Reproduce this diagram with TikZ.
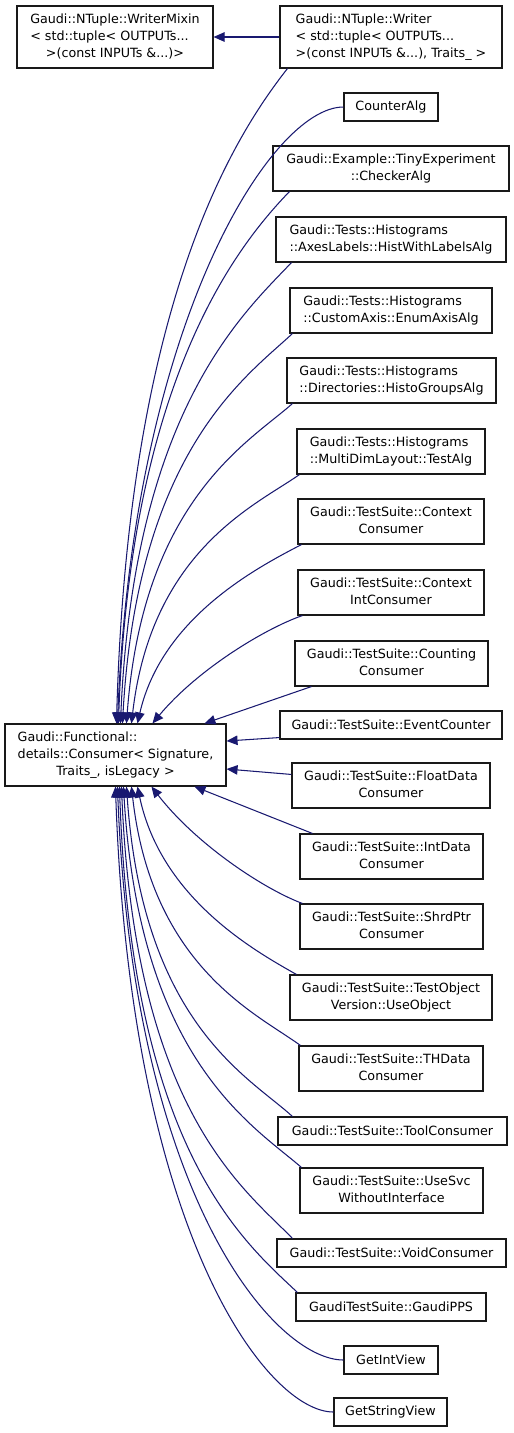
\documentclass[tikz,border=0pt]{standalone}
\usepackage{fontspec}
\setmainfont{DejaVu Sans}
\usetikzlibrary{arrows.meta,calc}
\definecolor{edgecol}{HTML}{191970}
\newcommand\lab[2]{\begin{tabular}{@{}l@{}}#1\\\multicolumn{1}{@{}c@{}}{#2}\end{tabular}}
\newcommand\conn[6]{\draw[inh] let \p1=(#1),\p2=(#2),\n1={\x1-\x2},\n2={\y1-\y2} in
  (\p1) .. controls ({\x1-#3*\n1},{\y1-#4*(\n2)}) and ({\x2+#5*\n1},{\y2+#6*(\n2)}) .. (\p2);}
\tikzset{
  box/.style={draw=black!90, line width=1.1pt, fill=white, inner sep=0pt,
    font=\fontsize{12.7pt}{17pt}\selectfont, align=center},
  inh/.style={draw=edgecol, line width=1.05pt, -{Triangle[length=11pt,width=9.5pt]}, edgecol},
}
\begin{document}
\begin{tikzpicture}[x=1pt,y=-1pt]
\useasboundingbox (0,0) rectangle (514,1433);
% nodes
\node[box, minimum width=196pt, minimum height=62pt] (wm) at (115,37)
  {\lab{Gaudi::NTuple::WriterMixin\\< std::tuple< OUTPUTs...}{>(const INPUTs \&...)>}};
\node[box, minimum width=222pt, minimum height=62pt] (wr) at (391,37)
  {\lab{Gaudi::NTuple::Writer\\< std::tuple< OUTPUTs...}{>(const INPUTs \&...), Traits\_ >}};
\node[box, minimum width=94pt, minimum height=28pt] (ca) at (391,107) {CounterAlg};
\node[box, minimum width=236pt, minimum height=45pt] (ck) at (391,168.5)
  {\lab{Gaudi::Example::TinyExperiment}{::CheckerAlg}};
\node[box, minimum width=230pt, minimum height=45pt] (hw) at (391,239.5)
  {\lab{Gaudi::Tests::Histograms}{::AxesLabels::HistWithLabelsAlg}};
\node[box, minimum width=202pt, minimum height=45pt] (ea) at (391,310.5)
  {\lab{Gaudi::Tests::Histograms}{::CustomAxis::EnumAxisAlg}};
\node[box, minimum width=209pt, minimum height=45pt] (hg) at (391.5,380.5)
  {\lab{Gaudi::Tests::Histograms}{::Directories::HistoGroupsAlg}};
\node[box, minimum width=188pt, minimum height=45pt] (md) at (391,451.5)
  {\lab{Gaudi::Tests::Histograms}{::MultiDimLayout::TestAlg}};
\node[box, minimum width=186pt, minimum height=45pt] (cc) at (391,521.5)
  {\lab{Gaudi::TestSuite::Context}{Consumer}};
\node[box, minimum width=186pt, minimum height=45pt] (ci) at (391,592.5)
  {\lab{Gaudi::TestSuite::Context}{IntConsumer}};
\node[box, minimum width=193pt, minimum height=45pt] (cn) at (391.5,663.5)
  {\lab{Gaudi::TestSuite::Counting}{Consumer}};
\node[box, minimum width=222pt, minimum height=28pt] (ev) at (391,725) {Gaudi::TestSuite::EventCounter};
\node[box, minimum width=198pt, minimum height=45pt] (fd) at (391,785.5)
  {\lab{Gaudi::TestSuite::FloatData}{Consumer}};
\node[box, minimum width=183pt, minimum height=45pt] (id) at (391.5,856.5)
  {\lab{Gaudi::TestSuite::IntData}{Consumer}};
\node[box, minimum width=183pt, minimum height=45pt] (sp) at (391.5,926.5)
  {\lab{Gaudi::TestSuite::ShrdPtr}{Consumer}};
\node[box, minimum width=202pt, minimum height=45pt] (uo) at (391,997.5)
  {\lab{Gaudi::TestSuite::TestObject}{Version::UseObject}};
\node[box, minimum width=184pt, minimum height=45pt] (th) at (391,1068.5)
  {\lab{Gaudi::TestSuite::THData}{Consumer}};
\node[box, minimum width=229pt, minimum height=28pt] (tc) at (392.5,1131) {Gaudi::TestSuite::ToolConsumer};
\node[box, minimum width=183pt, minimum height=45pt] (us) at (391.5,1190.5)
  {\lab{Gaudi::TestSuite::UseSvc}{WithoutInterface}};
\node[box, minimum width=229pt, minimum height=28pt] (vc) at (391.5,1253) {Gaudi::TestSuite::VoidConsumer};
\node[box, minimum width=190pt, minimum height=28pt] (pps) at (391,1307) {GaudiTestSuite::GaudiPPS};
\node[box, minimum width=94pt, minimum height=28pt] (giv) at (391,1360) {GetIntView};
\node[box, minimum width=113pt, minimum height=28pt] (gsv) at (390.5,1412) {GetStringView};
\node[box, minimum width=221pt, minimum height=62pt] (base) at (115.5,755)
  {\lab{Gaudi::Functional::\\details::Consumer< Signature,}{Traits\_, isLegacy >}};
% edges
\draw[inh] (wr.west) -- (wm.east);
\conn{[xshift=8pt]wr.south west}{[xshift=112pt]base.north west}{0.3}{0.1}{0.07}{0.65}
\conn{ca.west}{[xshift=113pt]base.north west}{0.32}{0}{0.07}{0.65}
\conn{[xshift=17pt]ck.south west}{[xshift=114pt]base.north west}{0.3}{0.1}{0.07}{0.65}
\conn{[xshift=16pt]hw.south west}{[xshift=116pt]base.north west}{0.28}{0.11}{0.08}{0.68}
\conn{[xshift=3pt]ea.south west}{[xshift=118pt]base.north west}{0.27}{0.11}{0.09}{0.7}
\conn{[xshift=6pt]hg.south west}{[xshift=122pt]base.north west}{0.26}{0.12}{0.1}{0.7}
\conn{[xshift=3pt]md.south west}{[xshift=127pt]base.north west}{0.25}{0.12}{0.12}{0.7}
\conn{[xshift=4pt]cc.south west}{[xshift=133pt]base.north west}{0.25}{0.12}{0.15}{0.6}
\conn{[xshift=5pt]ci.south west}{[xshift=148pt]base.north west}{0.25}{0.12}{0.3}{0.5}
\draw[inh] ([xshift=17pt]cn.south west) -- ([xshift=200pt]base.north west);
\draw[inh] ([yshift=2pt]ev.south west) -- ([yshift=14pt]base.east);
\draw[inh] ([yshift=-12pt]fd.north west) -- ([yshift=-14pt]base.east);
\draw[inh] ([xshift=13pt]id.north west) -- ([xshift=190pt]base.south west);
\conn{[xshift=3pt]sp.north west}{[xshift=147pt]base.south west}{0.25}{0.12}{0.3}{0.5}
\conn{[xshift=7pt]uo.north west}{[xshift=133pt]base.south west}{0.25}{0.12}{0.15}{0.6}
\conn{[xshift=2pt]th.north west}{[xshift=127pt]base.south west}{0.25}{0.12}{0.12}{0.7}
\conn{[xshift=15pt]tc.north west}{[xshift=122pt]base.south west}{0.26}{0.12}{0.1}{0.72}
\conn{[xshift=2pt]us.north west}{[xshift=119pt]base.south west}{0.27}{0.11}{0.09}{0.72}
\conn{[xshift=16pt]vc.north west}{[xshift=117pt]base.south west}{0.28}{0.11}{0.08}{0.72}
\conn{[xshift=2pt]pps.north west}{[xshift=115pt]base.south west}{0.3}{0.1}{0.07}{0.72}
\conn{giv.west}{[xshift=113pt]base.south west}{0.3}{0}{0.07}{0.72}
\conn{gsv.west}{[xshift=111pt]base.south west}{0.3}{0}{0.07}{0.72}
\end{tikzpicture}
\end{document}
